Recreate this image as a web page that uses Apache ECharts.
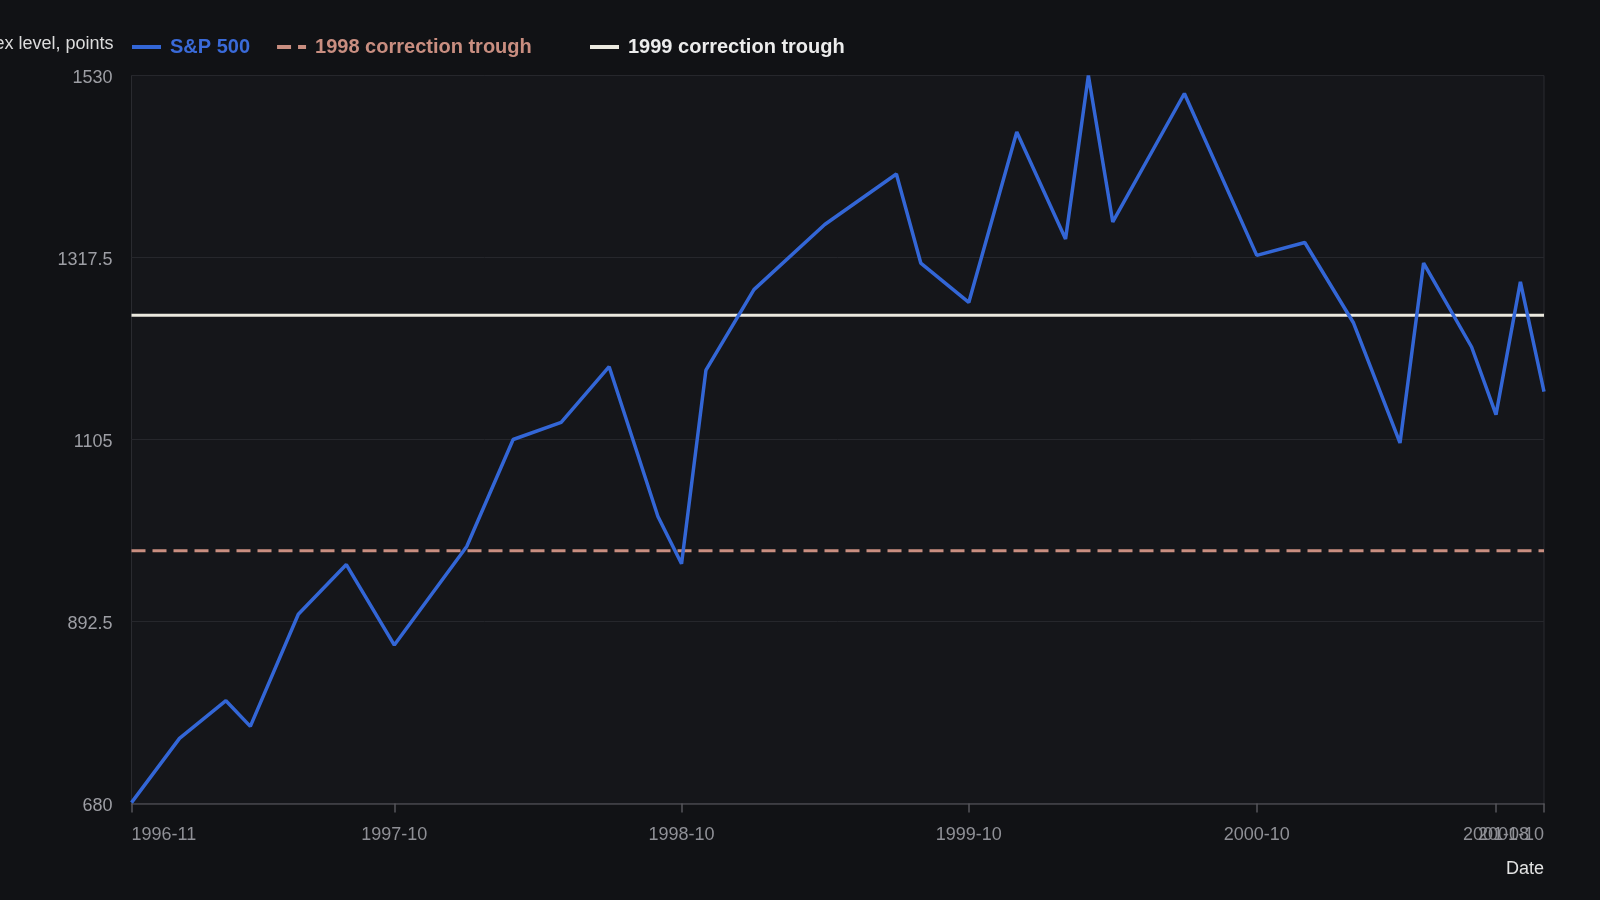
<!DOCTYPE html>
<html>
<head>
<meta charset="utf-8">
<title>S&amp;P 500 corrections</title>
<script src="https://cdn.jsdelivr.net/npm/echarts@6/dist/echarts.min.js"></script>
<style>
  html, body { margin: 0; padding: 0; background: #111215; }
  #mychart { width: 1600px; height: 900px; }
</style>
</head>
<body>
<div id="mychart"></div>
<script>
// monthly points
var dates = ['1996-11', '1997-01', '1997-03', '1997-04', '1997-06', '1997-08', '1997-10',
  '1998-01', '1998-03', '1998-05', '1998-07', '1998-09', '1998-10', '1998-11',
  '1999-01', '1999-04', '1999-07', '1999-08', '1999-10', '1999-12',
  '2000-02', '2000-03', '2000-04', '2000-07', '2000-10', '2000-12',
  '2001-02', '2001-04', '2001-05', '2001-07', '2001-08', '2001-09', '2001-10'];
var spValues = [681, 756, 800, 770, 901, 959, 865,
  980, 1105, 1125, 1190, 1015, 960, 1186,
  1280, 1356, 1415, 1311, 1265, 1464,
  1339, 1530, 1359, 1509, 1320, 1335,
  1241, 1101, 1311, 1213, 1134, 1289, 1161];
var trough1998 = 975;
var trough1999 = 1250;
var xTickLabels = ['1996-11', '1997-10', '1998-10', '1999-10', '2000-10', '2001-10'];
// this one sits on top of the last label, so it goes on its own overlaid axis
var xExtraTickLabels = ['2001-08'];
var yTicks = [680, 892.5, 1105, 1317.5, 1530];

var FONT = '"Liberation Sans", Arial, Helvetica, sans-serif';

function toTime(s) {
  var p = s.split('-');
  return new Date(+p[0], +p[1] - 1, 1).getTime();
}
function fmtMonth(v) {
  var d = new Date(v);
  var m = d.getMonth() + 1;
  return d.getFullYear() + '-' + (m < 10 ? '0' + m : m);
}

var xStart = toTime(dates[0]);
var xEnd = toTime(dates[dates.length - 1]);
var xTicks = xTickLabels.map(toTime);
var xExtraTicks = xExtraTickLabels.map(toTime);

var spData = [];
for (var i in dates) {
  spData.push([toTime(dates[i]), spValues[i]]);
}

var chart = echarts.init(document.getElementById('mychart'), null, { renderer: 'canvas' });

var legendText = { fontSize: 20, fontWeight: 'bold', fontFamily: FONT, padding: [0, 0, 0, 4] };
var tickStyle = { length: 9, lineStyle: { color: '#55565b', width: 1.5 } };
var labelStyle = { color: '#8f9096', fontSize: 18, margin: 23, formatter: fmtMonth };

var option = {
  backgroundColor: '#111215',
  textStyle: { fontFamily: FONT },
  grid: {
    left: 131.5,
    right: 56,
    top: 75.5,
    bottom: 96.5,
    containLabel: false,
    outerBoundsMode: 'none',
    show: true,
    backgroundColor: '#15161a',
    borderColor: '#2a2b30',
    borderWidth: 1
  },
  legend: [{
    left: 130,
    top: 37,
    padding: 0,
    itemWidth: 29,
    itemHeight: 14,
    itemGap: 25,
    itemStyle: { opacity: 0 },
    lineStyle: { width: 4 },
    textStyle: legendText,
    data: [
      { name: 'S&P 500', textStyle: { color: '#3a6ad8' } },
      { name: '1998 correction trough', textStyle: { color: '#c98e80' } }
    ]
  }, {
    left: 588,
    top: 37,
    padding: 0,
    itemWidth: 29,
    itemHeight: 14,
    itemStyle: { opacity: 0 },
    lineStyle: { width: 4 },
    textStyle: legendText,
    data: [
      { name: '1999 correction trough', textStyle: { color: '#ececec' } }
    ]
  }],
  xAxis: [{
    // dates as timestamps on a value axis so the tick list can be given directly
    type: 'value',
    position: 'bottom',
    min: xStart,
    max: xEnd,
    name: 'Date',
    nameLocation: 'end',
    nameGap: 0,
    nameTextStyle: {
      color: '#e2e2e2', fontSize: 18, fontFamily: FONT,
      align: 'right', verticalAlign: 'top', padding: [57, 0, 0, 0]
    },
    axisLine: { lineStyle: { color: '#45464b', width: 1.5 } },
    axisTick: Object.assign({ customValues: xTicks }, tickStyle),
    axisLabel: Object.assign({
      customValues: xTicks,
      showMinLabel: true,
      showMaxLabel: true,
      alignMinLabel: 'left',
      alignMaxLabel: 'right'
    }, labelStyle),
    splitLine: { show: false }
  }, {
    type: 'value',
    position: 'bottom',
    min: xStart,
    max: xEnd,
    axisLine: { show: false },
    axisTick: Object.assign({ customValues: xExtraTicks }, tickStyle),
    axisLabel: Object.assign({ customValues: xExtraTicks }, labelStyle),
    splitLine: { show: false }
  }],
  yAxis: {
    type: 'value',
    min: 680,
    max: 1530,
    name: 'Index level, points',
    nameLocation: 'end',
    nameGap: 31,
    nameTextStyle: {
      color: '#dcdcdc', fontSize: 18, fontFamily: FONT,
      align: 'right', verticalAlign: 'middle', padding: [0, 18, 0, 0]
    },
    axisLine: { show: false },
    axisTick: { show: false, customValues: yTicks },
    axisLabel: {
      customValues: yTicks,
      formatter: function (v) { return String(v); },
      color: '#9d9ea4',
      fontSize: 18,
      margin: 19,
      verticalAlign: 'top',
      lineHeight: 5,
      showMinLabel: true,
      showMaxLabel: true
    },
    splitLine: { lineStyle: { color: '#26272c', width: 1 } }
  },
  series: [{
    name: 'S&P 500',
    type: 'line',
    data: spData,
    symbol: 'none',
    color: '#3366d6',
    lineStyle: { width: 3.5, color: '#3366d6' },
    z: 3
  }, {
    name: '1998 correction trough',
    type: 'line',
    data: [[xStart, trough1998], [xEnd, trough1998]],
    symbol: 'none',
    color: '#c98e80',
    lineStyle: { width: 3, color: '#c98e80', type: [14, 7] },
    z: 2
  }, {
    name: '1999 correction trough',
    type: 'line',
    data: [[xStart, trough1999], [xEnd, trough1999]],
    symbol: 'none',
    color: '#ebe9df',
    lineStyle: { width: 3, color: '#ebe9df' },
    z: 2
  }]
};

chart.setOption(option);
</script>
</body>
</html>
